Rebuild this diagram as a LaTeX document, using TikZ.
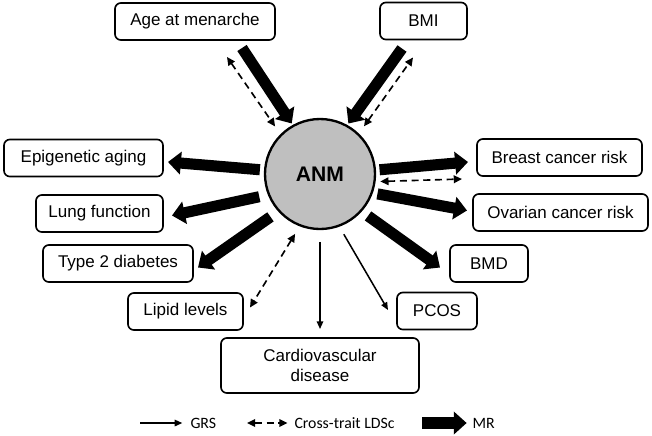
\documentclass[tikz,border=0pt]{standalone}
\usepackage{fontspec}
\setmainfont{Liberation Sans}
\newfontfamily\legendfont{Carlito}
\usetikzlibrary{positioning}
\usetikzlibrary{arrows.meta}

\begin{document}
\begin{tikzpicture}[x=0.03cm, y=-0.03cm, outer sep=0,
    trait/.style={draw, rectangle, rounded corners=5pt, line width=1.4pt, minimum height=1.11cm, inner sep=2pt, font=\fontsize{14.5}{17}\selectfont},
    mr/.style={line width=9.5pt, -{Triangle[length=11pt, width=19pt]}},
    grs/.style={line width=1.3pt, -{Triangle[length=6.5pt, width=5.5pt]}},
    ldsc/.style={line width=1.4pt, dash pattern=on 6pt off 4pt, {Triangle[length=7pt, width=6.5pt]}-{Triangle[length=7pt, width=6.5pt]}},
    legend/.style={inner xsep=3pt, font=\legendfont\fontsize{13.5}{15}\selectfont}]
        \useasboundingbox (0,0) rectangle (652,435);
        % centre
        \node [draw, circle, line width=2pt, fill=black!25, minimum size=3.3cm, font=\bfseries\fontsize{18}{20}\selectfont] (anm) at (320,174) {ANM};
        % traits
        \node [trait, minimum width=4.8cm] (agem) at (195,21.5) {Age at menarche};
        \node [trait, minimum width=2.61cm] (bmi) at (423.5,21) {BMI};
        \node [trait, minimum width=4.95cm] (breast) at (559.5,157.5) {Breast cancer risk};
        \node [trait, minimum width=5.25cm] (ovarian) at (560.5,212.5) {Ovarian cancer risk};
        \node [trait, minimum width=2.34cm] (bmd) at (489,263.5) {BMD};
        \node [trait, minimum width=2.4cm] (pcos) at (437,311) {PCOS};
        \node [trait, minimum width=5.94cm, minimum height=1.65cm, align=center] (cardio) at (320,365.5) {Cardiovascular\\disease};
        \node [trait, minimum width=3.45cm] (lipid) at (185.5,311.5) {Lipid levels};
        \node [trait, minimum width=4.5cm] (t2d) at (118,263.5) {Type 2 diabetes};
        \node [trait, minimum width=3.81cm] (lung) at (99.5,213.5) {Lung function};
        \node [trait, minimum width=4.77cm] (epi) at (83.5,158) {Epigenetic aging};
        % into ANM
        \draw[mr, shorten >=2.5pt] ([shift={(47,8)}]agem.south) -- (anm.119);
        \draw[ldsc, shorten >=9pt] ([shift={(32,17)}]agem.south) -- (anm.135);
        \draw[mr, shorten >=2.5pt] ([shift={(-21.5,9)}]bmi.south) -- (anm.61);
        \draw[ldsc, shorten <=8.5pt] (anm.46) -- ([shift={(-10.5,18)}]bmi.south);
        % out of ANM
        \draw[mr, shorten <=4pt] (anm.4) -- ([shift={(-9,4.5)}]breast.west);
        \draw[ldsc, shorten <=5pt] (anm.-8) -- ([shift={(-15,3)}]breast.south west);
        \draw[mr, shorten <=5pt] (anm.-20) -- ([shift={(-6,-2)}]ovarian.west);
        \draw[mr, shorten <=7.5pt] (anm.-42) -- ([shift={(-10,4)}]bmd.west);
        \draw[grs, shorten <=8.5pt] (anm.-70) -- ([shift={(-9,-1)}]pcos.west);
        \draw[grs, shorten <=11pt] (anm.-90) -- ([shift={(0,-9)}]cardio.north);
        \draw[ldsc, shorten <=8.5pt] (anm.-111) -- ([shift={(7,-4)}]lipid.east);
        \draw[mr, shorten <=9pt] (anm.-138) -- ([shift={(5,4)}]t2d.east);
        \draw[mr, shorten <=8.5pt] (anm.-158) -- ([shift={(9,2)}]lung.east);
        \draw[mr, shorten <=4.5pt] (anm.176) -- ([shift={(5,4)}]epi.east);
        % legend
        \coordinate (grsfrom) at (140,423);
        \node [legend, anchor=west] (grslabel) at (187,423) {GRS};
        \draw[grs, shorten >=4pt] (grsfrom) -- (grslabel.west);
        \coordinate (ldscfrom) at (247,423);
        \node [legend, anchor=west] (ldsclabel) at (291,423) {Cross-trait LDSc};
        \draw[ldsc, shorten >=3pt] (ldscfrom) -- (ldsclabel.west);
        \coordinate (mrfrom) at (422,423);
        \node [legend, anchor=west] (mrlabel) at (469,423) {MR};
        \draw[mr, shorten >=2pt] (mrfrom) -- (mrlabel.west);
    \end{tikzpicture}
\end{document}
